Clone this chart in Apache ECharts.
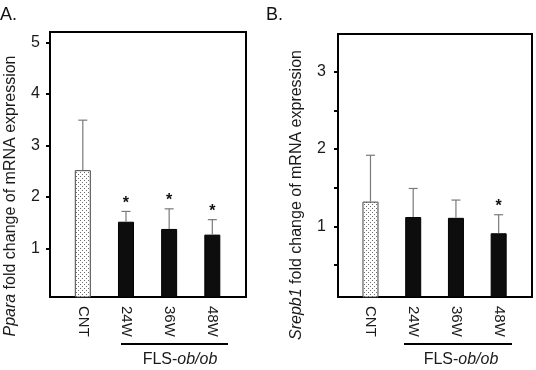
<!DOCTYPE html>
<html>
<head>
<meta charset="utf-8">
<script src="https://cdn.jsdelivr.net/npm/echarts@6/dist/echarts.min.js"></script>
<style>html,body{margin:0;padding:0;background:#fff;}#c{width:536px;height:370px;}</style>
</head>
<body>
<div id="c"></div>
<script>
// ---- data ----
const categories = ['CNT', '24W', '36W', '48W'];
const pparaMean = [2.52, 1.52, 1.38, 1.27];
const pparaSD   = [0.97, 0.20, 0.39, 0.29];
const pparaSig  = [0, 1, 1, 1];
const srebpMean = [1.32, 1.12, 1.11, 0.91];
const srebpSD   = [0.60, 0.37, 0.23, 0.24];
const srebpSig  = [0, 0, 0, 1];
const pparaYLabels = [1, 2, 3, 4, 5];
const srebpYLabels = [1, 2, 3];
const srebpYTicks  = [0.5, 1, 1.5, 2, 2.5, 3];
const xPositions = [1, 2, 3, 4];

// dotted pattern for the control bar
const pat = document.createElement('canvas');
pat.width = 4; pat.height = 4;
const pc = pat.getContext('2d');
pc.fillStyle = '#fff'; pc.fillRect(0, 0, 4, 4);
pc.fillStyle = '#6a6a6a';
pc.fillRect(0, 0, 1, 1);
pc.fillRect(2, 2, 1, 1);

const FONT = '"Liberation Sans", Arial, sans-serif';
const chart = echarts.init(document.getElementById('c'), null, {renderer: 'canvas'});

function barData(means) {
  return means.map((v, i) => ({
    value: [xPositions[i], v],
    itemStyle: i === 0
      ? {color: {image: pat, repeat: 'repeat'}, borderColor: '#444', borderWidth: 1}
      : {color: '#0d0d0d', borderColor: '#000', borderWidth: 1}
  }));
}
function errData(means, sds, sig) {
  return means.map((v, i) => [xPositions[i], v, v + sds[i], sig[i]]);
}
function renderErr(params, api) {
  const x = api.value(0), lo = api.value(1), hi = api.value(2), s = api.value(3);
  const p1 = api.coord([x, lo]), p2 = api.coord([x, hi]);
  const st = {stroke: '#7a7a7a', lineWidth: 1.2};
  const children = [
    {type: 'line', shape: {x1: p1[0], y1: p1[1], x2: p2[0], y2: p2[1]}, style: st},
    {type: 'line', shape: {x1: p2[0] - 4.5, y1: p2[1], x2: p2[0] + 4.5, y2: p2[1]}, style: st}
  ];
  if (s) {
    children.push({type: 'text', x: p2[0], y: p2[1] - 8,
      style: {text: '*', fill: '#111', font: 'bold 16px ' + FONT, align: 'center', verticalAlign: 'middle'}});
  }
  return {type: 'group', children};
}

function xAxisDef(gi) {
  return {
    gridIndex: gi, type: 'value', min: 0.24, max: 4.78,
    axisLine: {show: false}, axisTick: {show: false}, splitLine: {show: false},
    axisLabel: {
      customValues: xPositions, rotate: -90, margin: 9, fontSize: 15, color: '#1a1a1a', fontFamily: 'Liberation Sans',
      hideOverlap: false,
      formatter: v => categories[Math.round(v) - 1]
    }
  };
}

chart.setOption({
  backgroundColor: '#fff',
  animation: false,
  grid: [
    {left: 50, top: 32, width: 196, height: 265, show: true, borderColor: '#000', borderWidth: 2, backgroundColor: '#fff'},
    {left: 338, top: 34, width: 194, height: 263, show: true, borderColor: '#000', borderWidth: 2, backgroundColor: '#fff'}
  ],
  xAxis: [xAxisDef(0), xAxisDef(1)],
  yAxis: [
    {gridIndex: 0, type: 'value', min: 0.06, max: 5.2,
      axisLine: {show: false}, splitLine: {show: false},
      axisTick: {show: true, customValues: pparaYLabels, length: 4, lineStyle: {color: '#000', width: 2}},
      axisLabel: {customValues: pparaYLabels, margin: 10, fontSize: 16, color: '#1a1a1a', fontFamily: 'Liberation Sans'}},
    {gridIndex: 1, type: 'value', min: 0.085, max: 3.49,
      axisLine: {show: false}, splitLine: {show: false},
      axisTick: {show: true, customValues: srebpYTicks, length: 4, lineStyle: {color: '#000', width: 2}},
      axisLabel: {customValues: srebpYLabels, margin: 12, fontSize: 16, color: '#1a1a1a', fontFamily: 'Liberation Sans'}}
  ],
  series: [
    {type: 'bar', xAxisIndex: 0, yAxisIndex: 0, barWidth: 16, data: barData(pparaMean)},
    {type: 'custom', xAxisIndex: 0, yAxisIndex: 0, clip: false, renderItem: renderErr, data: errData(pparaMean, pparaSD, pparaSig), z: 3},
    {type: 'bar', xAxisIndex: 1, yAxisIndex: 1, barWidth: 16, data: barData(srebpMean)},
    {type: 'custom', xAxisIndex: 1, yAxisIndex: 1, clip: false, renderItem: renderErr, data: errData(srebpMean, srebpSD, srebpSig), z: 3}
  ],
  graphic: [
    {type: 'text', left: 0, top: 6, style: {text: 'A.', font: '18px ' + FONT, fill: '#111'}},
    {type: 'text', left: 266, top: 6, style: {text: 'B.', font: '18px ' + FONT, fill: '#111'}},
    {type: 'text', x: 11, y: 196, rotation: Math.PI / 2,
      style: {text: '{i|Ppara} fold change of mRNA expression', font: '16px ' + FONT, fill: '#1a1a1a',
        align: 'center', verticalAlign: 'middle', rich: {i: {fontStyle: 'italic', fontSize: 16, fontFamily: 'Liberation Sans'}}}},
    {type: 'text', x: 297, y: 195, rotation: Math.PI / 2,
      style: {text: '{i|Srepb1} fold change of mRNA expression', font: '16px ' + FONT, fill: '#1a1a1a',
        align: 'center', verticalAlign: 'middle', rich: {i: {fontStyle: 'italic', fontSize: 16, fontFamily: 'Liberation Sans'}}}},
    {type: 'line', shape: {x1: 121, y1: 344, x2: 228, y2: 344}, style: {stroke: '#000', lineWidth: 2}},
    {type: 'line', shape: {x1: 404, y1: 344, x2: 512, y2: 344}, style: {stroke: '#000', lineWidth: 2}},
    {type: 'text', x: 180, y: 360,
      style: {text: 'FLS-{i|ob/ob}', font: '16px ' + FONT, fill: '#1a1a1a', align: 'center', verticalAlign: 'middle',
        rich: {i: {fontStyle: 'italic', fontSize: 16, fontFamily: 'Liberation Sans'}}}},
    {type: 'text', x: 461, y: 360,
      style: {text: 'FLS-{i|ob/ob}', font: '16px ' + FONT, fill: '#1a1a1a', align: 'center', verticalAlign: 'middle',
        rich: {i: {fontStyle: 'italic', fontSize: 16, fontFamily: 'Liberation Sans'}}}}
  ]
});
</script>
</body>
</html>
